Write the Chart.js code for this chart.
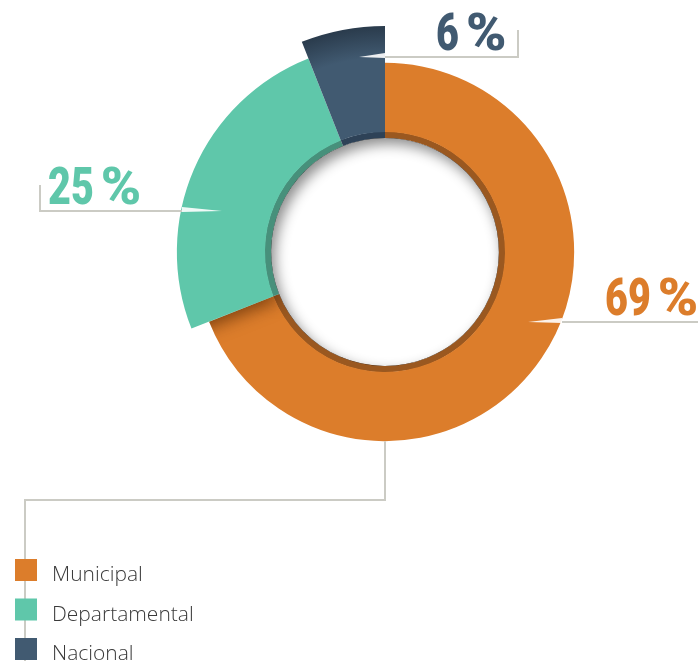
<!DOCTYPE html>
<html>
<head>
<meta charset="utf-8">
<script src="https://cdn.jsdelivr.net/npm/chart.js@4.4.1/dist/chart.umd.min.js"></script>
<style>
  html, body { margin: 0; padding: 0; background: #fff; overflow: hidden; }
  canvas { display: block; }
</style>
</head>
<body>
<canvas id="ambitoChart" width="698" height="661"></canvas>
<script>
const etiquetas = ['Municipal', 'Departamental', 'Nacional'];
const porcentajes = [69, 25, 6];

const colores = ['#DC7D2B', '#5FC7AA', '#415A71'];
const coloresBorde = ['#9A5820', '#47907B', '#2E4257'];
const radioRelativo = [0.837, 0.921, 1];     // outer radius of each slice vs the largest one
const anillo = { borde: 0.531, hueco: 0.504 }; // dark inner rim and hole, vs the largest radius

// where each percentage callout goes (tip inside slice, edge of slice, elbow, text)
const callouts = [
    { punta: [528, 322], borde: 562, fin: [700, 322], sube: null, texto: [605, 315] },
    { punta: [222, 211], borde: 182, fin: [40, 211], sube: 185, texto: [48, 204] },
    { punta: [359, 57], borde: 385, fin: [518, 57], sube: 30, texto: [436, 50] }
];

const radios = {
    id: 'radios',
    afterDatasetsUpdate(chart) {
        const fuera = chart.getDatasetMeta(0).data;
        const dentro = chart.getDatasetMeta(1).data;
        const R = fuera[0].outerRadius;
        fuera.forEach((arc, i) => {
            arc.innerRadius = R * anillo.borde;
            arc.outerRadius = R * radioRelativo[i];
        });
        dentro.forEach(arc => {
            arc.innerRadius = R * anillo.hueco;
            arc.outerRadius = R * anillo.borde + 0.5;
        });
    }
};

// draws text squeezed horizontally (the original uses a condensed face)
function textoAngosto(ctx, txt, x, y, escala) {
    ctx.save();
    ctx.translate(x, y);
    ctx.scale(escala, 1);
    ctx.fillText(txt, 0, 0);
    const w = ctx.measureText(txt).width * escala;
    ctx.restore();
    return w;
}

const decoracion = {
    id: 'decoracion',
    afterDatasetsDraw(chart) {
        const ctx = chart.ctx;
        const fuera = chart.getDatasetMeta(0).data;
        const dentro = chart.getDatasetMeta(1).data;
        const { x, y } = fuera[0];
        const rHueco = dentro[0].innerRadius;

        // Departamental slice casting a shadow on Municipal (clipped to the Municipal slice)
        const mun = fuera[0];
        ctx.save();
        ctx.beginPath();
        ctx.arc(x, y, mun.outerRadius, mun.startAngle, mun.endAngle);
        ctx.arc(x, y, rHueco, mun.endAngle, mun.startAngle, true);
        ctx.closePath();
        ctx.clip();
        ctx.shadowColor = 'rgba(70, 30, 0, 0.6)';
        ctx.shadowBlur = 16;
        ctx.shadowOffsetY = 6;
        dentro[1].draw(ctx);
        fuera[1].draw(ctx);
        ctx.restore();

        // inner shadow of the hole
        ctx.save();
        ctx.beginPath();
        ctx.arc(x, y, rHueco, 0, Math.PI * 2);
        ctx.clip();
        ctx.beginPath();
        ctx.rect(x - rHueco - 60, y - rHueco - 60, rHueco * 2 + 120, rHueco * 2 + 120);
        ctx.arc(x, y, rHueco, 0, Math.PI * 2, true);
        ctx.shadowColor = 'rgba(0, 0, 0, 0.45)';
        ctx.shadowBlur = 13;
        ctx.shadowOffsetX = 4;
        ctx.shadowOffsetY = 6;
        ctx.fillStyle = '#000';
        ctx.fill();
        ctx.restore();
    },
    afterDraw(chart) {
        const ctx = chart.ctx;
        const fuera = chart.getDatasetMeta(0).data;
        const { x } = fuera[0];
        const gris = '#cbcbc4';

        ctx.save();
        // callouts with the percentages
        callouts.forEach((c, i) => {
            const [px, py] = c.punta;
            ctx.fillStyle = 'rgba(255,255,255,0.9)';
            ctx.beginPath();
            ctx.moveTo(px, py);
            ctx.lineTo(c.borde, py - 4);
            ctx.lineTo(c.borde, py + 1);
            ctx.closePath();
            ctx.fill();

            ctx.strokeStyle = gris;
            ctx.lineWidth = 2;
            ctx.beginPath();
            ctx.moveTo(c.borde, py);
            ctx.lineTo(c.fin[0], c.fin[1]);
            if (c.sube !== null) ctx.lineTo(c.fin[0], c.sube);
            ctx.stroke();

            ctx.fillStyle = colores[i];
            ctx.font = '900 52px Roboto, "Noto Sans", sans-serif';
            ctx.textBaseline = 'alphabetic';
            ctx.textAlign = 'left';
            const w = textoAngosto(ctx, String(porcentajes[i]), c.texto[0], c.texto[1], 0.76);
            textoAngosto(ctx, '%', c.texto[0] + w + 7, c.texto[1], 1.05);
        });

        // connector from the ring down to the legend
        const abajo = fuera[0].y + fuera[0].outerRadius;
        ctx.strokeStyle = gris;
        ctx.lineWidth = 2;
        ctx.beginPath();
        ctx.moveTo(x, abajo);
        ctx.lineTo(x, 500);
        ctx.lineTo(25, 500);
        ctx.lineTo(25, 661);
        ctx.stroke();

        // legend
        etiquetas.forEach((et, i) => {
            const top = 559 + i * 39.5;
            ctx.fillStyle = colores[i];
            ctx.fillRect(15, top, 22, 22);
            ctx.fillStyle = '#3a3a3a';
            ctx.font = '300 21px "Open Sans", "Noto Sans", sans-serif';
            ctx.textAlign = 'left';
            ctx.textBaseline = 'alphabetic';
            ctx.fillText(et, 52, top + 22);
        });
        ctx.restore();
    }
};

new Chart(document.getElementById('ambitoChart'), {
    type: 'doughnut',
    data: {
        labels: etiquetas,
        datasets: [
            {
                data: porcentajes,
                backgroundColor: (c) => {
                    const i = c.dataIndex;
                    const area = c.chart.chartArea;
                    if (i !== 2 || !area) return colores[i];
                    const cx = (area.left + area.right) / 2;
                    const cy = (area.top + area.bottom) / 2;
                    const R = Math.min(area.right - area.left, area.bottom - area.top) / 2;
                    const g = c.chart.ctx.createRadialGradient(cx, cy, 0, cx, cy, R);
                    g.addColorStop(0, colores[i]);
                    g.addColorStop(0.86, colores[i]);
                    g.addColorStop(1, '#2A3B4C');
                    return g;
                },
                borderWidth: 0
            },
            {
                data: porcentajes,
                backgroundColor: coloresBorde,
                borderWidth: 0
            }
        ]
    },
    options: {
        responsive: false,
        animation: false,
        events: [],
        cutout: '50%',
        layout: { padding: { left: 159, right: 87, top: 26, bottom: 183 } },
        plugins: {
            legend: { display: false },
            tooltip: { enabled: false }
        }
    },
    plugins: [radios, decoracion]
});
</script>
</body>
</html>
